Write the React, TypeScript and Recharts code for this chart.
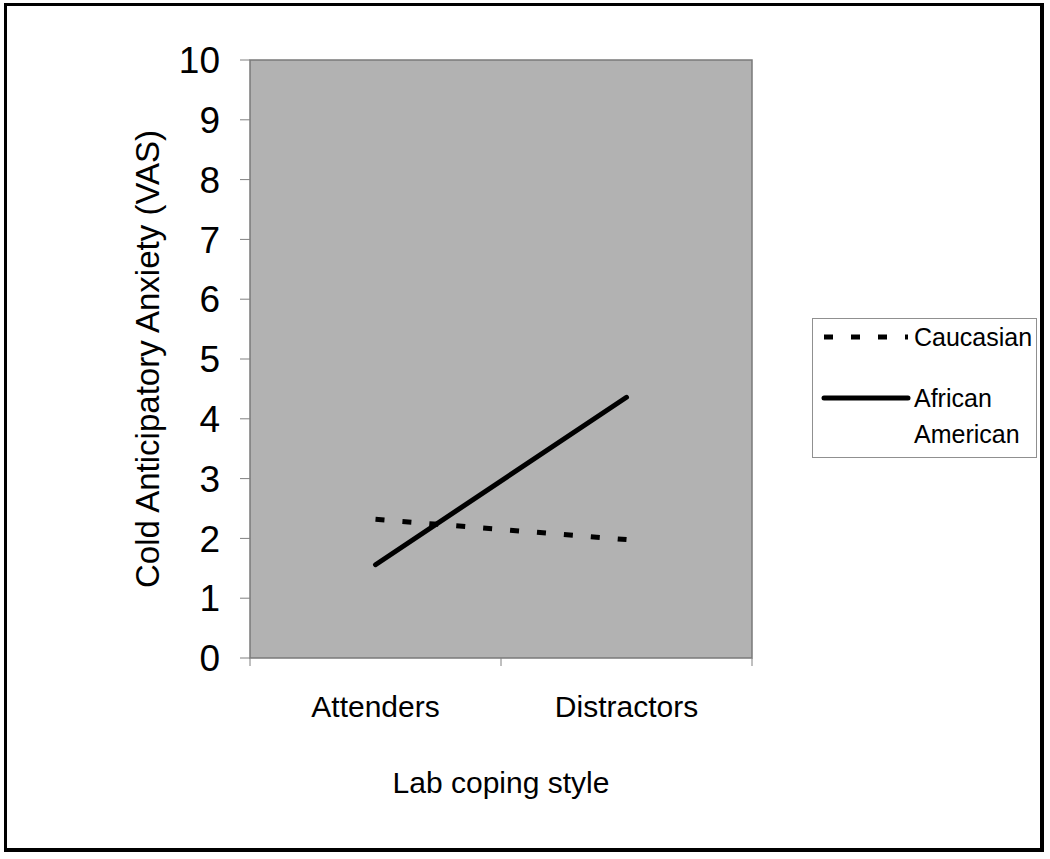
import React from 'react';
import { LineChart, Line, XAxis, YAxis, ReferenceArea, Legend } from 'recharts';

const categories = ['Attenders', 'Distractors'];
const caucasian = [2.32, 1.98];
const africanAmerican = [1.56, 4.36];
const yTicks = [0, 1, 2, 3, 4, 5, 6, 7, 8, 9, 10];
const xTicks = [0, 0.5, 1, 1.5, 2];
const xTitle = 'Lab coping style';
const yTitle = 'Cold Anticipatory Anxiety (VAS)';

const seriesDefs = [
  { key: 'caucasian', name: 'Caucasian', dash: '9 18', cap: 'butt' as const },
  { key: 'africanAmerican', name: 'African American', dash: undefined, cap: 'round' as const },
];

const data = categories.map((c, i) => ({
  pos: i + 0.5,
  name: c,
  caucasian: caucasian[i],
  africanAmerican: africanAmerican[i],
}));

const FONT = '"Liberation Sans", Arial, sans-serif';

const XTick = (props: any) => {
  const { x, y, payload } = props;
  const v = payload.value;
  if (Number.isInteger(v)) {
    return <line x1={x} y1={y} x2={x} y2={y + 8} stroke="#808080" strokeWidth={1} />;
  }
  return (
    <text x={x} y={y + 59} textAnchor="middle" fontSize={30} fill="#000" fontFamily={FONT}>
      {categories[Math.floor(v)]}
    </text>
  );
};

const XLabel = (props: any) => {
  const vb = props.viewBox;
  return (
    <text x={vb.x + vb.width / 2} y={vb.y + 135} textAnchor="middle" fontSize={30} fill="#000" fontFamily={FONT}>
      {xTitle}
    </text>
  );
};

const YLabel = (props: any) => {
  const vb = props.viewBox;
  const cx = vb.x + 17;
  const cy = vb.y + vb.height / 2;
  return (
    <text
      x={cx}
      y={cy}
      transform={`rotate(-90, ${cx}, ${cy})`}
      textAnchor="middle"
      dominantBaseline="central"
      fontSize={33}
      fill="#000"
      fontFamily={FONT}
    >
      {yTitle}
    </text>
  );
};

const renderLegend = () => {
  const rows = [19, 80];
  return (
    <div
      style={{
        width: 225,
        height: 140,
        boxSizing: 'border-box',
        border: '1px solid #909090',
        background: '#fff',
        position: 'relative',
      }}
    >
      <svg width={225} height={140} style={{ position: 'absolute', left: -1, top: -1 }}>
        {seriesDefs.map((s, i) => {
          const words = s.name.split(' ');
          return (
            <g key={s.key}>
              <line
                x1={12}
                x2={96}
                y1={rows[i]}
                y2={rows[i]}
                stroke="#000"
                strokeWidth={5}
                strokeDasharray={s.dash}
                strokeLinecap={s.cap}
              />
              {words.map((w, j) => (
                <text
                  key={w}
                  x={102}
                  y={rows[i] + j * 36}
                  dominantBaseline="central"
                  fontSize={25}
                  fill="#000"
                  fontFamily={FONT}
                >
                  {w}
                </text>
              ))}
            </g>
          );
        })}
      </svg>
    </div>
  );
};

export default function App() {
  return (
    <div style={{ position: 'absolute', left: 0, top: 0, width: 1050, height: 859, background: '#fff' }}>
      <div
        style={{
          position: 'absolute',
          left: 4,
          top: 3,
          width: 1040,
          height: 849,
          boxSizing: 'border-box',
          borderTop: '3px solid #000',
          borderLeft: '3px solid #000',
          borderRight: '4px solid #000',
          borderBottom: '4px solid #000',
        }}
      />
      <div style={{ position: 'absolute', left: 0, top: 0 }}>
        <LineChart
          width={1050}
          height={859}
          data={data}
          margin={{ top: 60, right: 298, bottom: 61, left: 130 }}
          style={{ fontFamily: FONT }}
        >
          <ReferenceArea
            y1={0}
            y2={10}
            fill="#b2b2b2"
            fillOpacity={1}
            stroke="#7a7a7a"
            strokeWidth={1.5}
            ifOverflow="visible"
          />
          <XAxis
            dataKey="pos"
            type="number"
            domain={[0, 2]}
            ticks={xTicks}
            interval={0}
            axisLine={false}
            tickLine={false}
            tickSize={0}
            tickMargin={0}
            height={140}
            tick={<XTick />}
            label={<XLabel />}
          />
          <YAxis
            type="number"
            domain={[0, 10]}
            ticks={yTicks}
            interval={0}
            width={120}
            axisLine={false}
            tickSize={10}
            tickMargin={20}
            tickLine={{ stroke: '#808080' }}
            tick={{ fontSize: 37, fill: '#000', fontFamily: FONT }}
            label={<YLabel />}
          />
          {seriesDefs.map((s) => (
            <Line
              key={s.key}
              type="linear"
              dataKey={s.key}
              name={s.name}
              stroke="#000"
              strokeWidth={5}
              strokeDasharray={s.dash}
              strokeLinecap={s.cap}
              dot={false}
              activeDot={false}
              isAnimationActive={false}
            />
          ))}
          <Legend
            layout="vertical"
            align="center"
            verticalAlign="middle"
            wrapperStyle={{ left: 812, top: 318, width: 225, height: 140 }}
            content={renderLegend}
          />
        </LineChart>
      </div>
    </div>
  );
}
